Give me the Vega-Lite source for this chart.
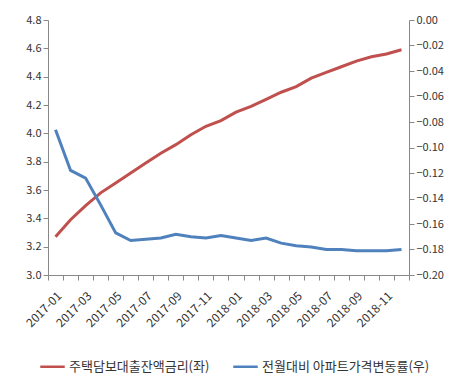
{
  "$schema": "https://vega.github.io/schema/vega-lite/v6.json",
  "autosize": "none",
  "width": 361,
  "height": 255,
  "padding": {"left": 48, "top": 20, "right": 42, "bottom": 108},
  "background": "white",
  "config": {
    "view": {"stroke": null},
    "font": "Noto Sans CJK KR",
    "axis": {
      "domainColor": "#888888",
      "tickColor": "#888888",
      "tickSize": 5,
      "grid": false,
      "labelFont": "Noto Sans CJK KR",
      "labelFontSize": 11,
      "labelColor": "#333333",
      "title": null
    }
  },
  "data": {
    "values": [
      {"month": "2017-01", "rate": 3.27, "change": -0.086},
      {"month": "2017-02", "rate": 3.39, "change": -0.118},
      {"month": "2017-03", "rate": 3.49, "change": -0.124},
      {"month": "2017-04", "rate": 3.58, "change": -0.145},
      {"month": "2017-05", "rate": 3.65, "change": -0.167},
      {"month": "2017-06", "rate": 3.72, "change": -0.173},
      {"month": "2017-07", "rate": 3.79, "change": -0.172},
      {"month": "2017-08", "rate": 3.86, "change": -0.171},
      {"month": "2017-09", "rate": 3.92, "change": -0.168},
      {"month": "2017-10", "rate": 3.99, "change": -0.170},
      {"month": "2017-11", "rate": 4.05, "change": -0.171},
      {"month": "2017-12", "rate": 4.09, "change": -0.169},
      {"month": "2018-01", "rate": 4.15, "change": -0.171},
      {"month": "2018-02", "rate": 4.19, "change": -0.173},
      {"month": "2018-03", "rate": 4.24, "change": -0.171},
      {"month": "2018-04", "rate": 4.29, "change": -0.175},
      {"month": "2018-05", "rate": 4.33, "change": -0.177},
      {"month": "2018-06", "rate": 4.39, "change": -0.178},
      {"month": "2018-07", "rate": 4.43, "change": -0.180},
      {"month": "2018-08", "rate": 4.47, "change": -0.180},
      {"month": "2018-09", "rate": 4.51, "change": -0.181},
      {"month": "2018-10", "rate": 4.54, "change": -0.181},
      {"month": "2018-11", "rate": 4.56, "change": -0.181},
      {"month": "2018-12", "rate": 4.59, "change": -0.180}
    ]
  },
  "encoding": {
    "x": {
      "field": "month",
      "type": "nominal",
      "sort": null,
      "scale": {"type": "band", "paddingInner": 0, "paddingOuter": 0},
      "axis": {
        "labelAngle": -45,
        "tickBand": "extent",
        "labelPadding": 10,
        "labelFontSize": 12,
        "labelExpr": "parseInt(substring(datum.value, 5, 7)) % 2 == 1 ? datum.value : ''"
      }
    },
    "color": {
      "scale": {
        "domain": ["주택담보대출잔액금리(좌)", "전월대비 아파트가격변동률(우)"],
        "range": ["#C0504D", "#4F81BD"]
      },
      "legend": {
        "orient": "none",
        "direction": "horizontal",
        "legendX": -9,
        "legendY": 333,
        "title": null,
        "symbolType": "stroke",
        "symbolSize": 600,
        "symbolStrokeWidth": 2.5,
        "labelFontSize": 13,
        "labelColor": "#333333",
        "labelFont": "Noto Sans CJK KR",
        "labelLimit": 300,
        "columnPadding": 18,
        "labelOffset": 3
      }
    }
  },
  "layer": [
    {
      "mark": {"type": "line", "strokeWidth": 3},
      "encoding": {
        "y": {
          "field": "rate",
          "type": "quantitative",
          "scale": {"domain": [3.0, 4.8], "nice": false, "zero": false},
          "axis": {
            "orient": "left",
            "values": [3.0, 3.2, 3.4, 3.6, 3.8, 4.0, 4.2, 4.4, 4.6, 4.8],
            "format": ".1f"
          }
        },
        "color": {"datum": "주택담보대출잔액금리(좌)"}
      }
    },
    {
      "mark": {"type": "line", "strokeWidth": 3},
      "encoding": {
        "y": {
          "field": "change",
          "type": "quantitative",
          "scale": {"domain": [-0.2, 0], "nice": false, "zero": false},
          "axis": {
            "orient": "right",
            "values": [-0.2, -0.18, -0.16, -0.14, -0.12, -0.1, -0.08, -0.06, -0.04, -0.02, 0],
            "format": ".2f"
          }
        },
        "color": {"datum": "전월대비 아파트가격변동률(우)"}
      }
    }
  ],
  "resolve": {"scale": {"y": "independent"}}
}
